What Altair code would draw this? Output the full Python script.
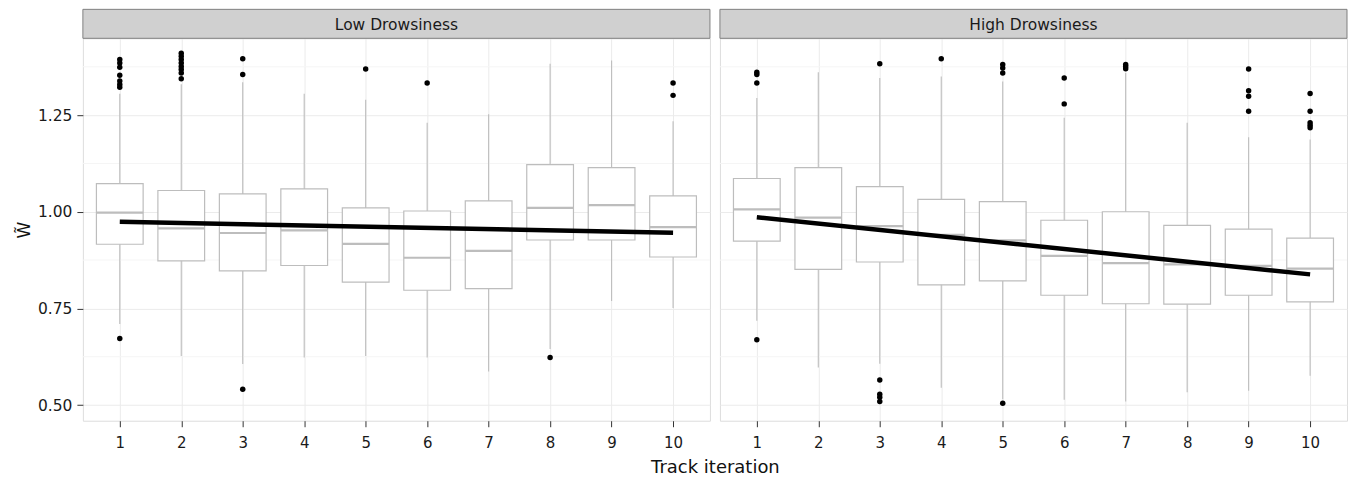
import altair as alt
import pandas as pd

# ---------------- data ----------------
iterations = [1, 2, 3, 4, 5, 6, 7, 8, 9, 10]
panel_names = ["Low Drowsiness", "High Drowsiness"]

low_lower = [0.710, 0.627, 0.606, 0.623, 0.627, 0.623, 0.587, 0.645, 0.769, 0.751]
low_q1 = [0.916, 0.873, 0.847, 0.861, 0.818, 0.797, 0.801, 0.927, 0.927, 0.883]
low_med = [0.998, 0.957, 0.945, 0.952, 0.917, 0.881, 0.899, 1.010, 1.017, 0.960]
low_q3 = [1.073, 1.055, 1.046, 1.059, 1.010, 1.002, 1.028, 1.122, 1.114, 1.041]
low_upper = [1.305, 1.330, 1.335, 1.305, 1.290, 1.230, 1.252, 1.383, 1.391, 1.234]

low_out_it = [1, 1, 1, 1, 1, 1, 1, 1,
              2, 2, 2, 2, 2, 2, 2, 2,
              3, 3, 3, 5, 6, 8, 10, 10]
low_out_val = [1.394, 1.385, 1.374, 1.353, 1.338, 1.329, 1.322, 0.672,
               1.410, 1.402, 1.394, 1.385, 1.376, 1.368, 1.359, 1.344,
               1.396, 1.355, 0.541, 1.369, 1.333, 0.623, 1.333, 1.301]

high_lower = [0.718, 0.597, 0.607, 0.545, 0.515, 0.514, 0.509, 0.533, 0.537, 0.576]
high_q1 = [0.924, 0.851, 0.870, 0.811, 0.821, 0.784, 0.762, 0.761, 0.784, 0.767]
high_med = [1.006, 0.985, 0.963, 0.940, 0.926, 0.886, 0.867, 0.864, 0.860, 0.853]
high_q3 = [1.086, 1.114, 1.065, 1.032, 1.026, 0.978, 1.000, 0.965, 0.955, 0.932]
high_upper = [1.294, 1.361, 1.346, 1.350, 1.337, 1.243, 1.359, 1.230, 1.193, 1.187]

high_out_it = [1, 1, 1, 1,
               3, 3, 3, 3, 3,
               4,
               5, 5, 5, 5,
               6, 6,
               7, 7, 7,
               9, 9, 9, 9,
               10, 10, 10, 10, 10]
high_out_val = [1.361, 1.355, 1.333, 0.669,
                1.383, 0.565, 0.528, 0.520, 0.509,
                1.396,
                1.381, 1.372, 1.359, 0.505,
                1.346, 1.279,
                1.381, 1.376, 1.370,
                1.369, 1.313, 1.299, 1.260,
                1.306, 1.260, 1.230, 1.224, 1.217]

trend_it = [1, 10]
low_trend = [0.974, 0.946]
high_trend = [0.986, 0.838]

y_major = [0.5, 0.75, 1.0, 1.25]
y_minor = [0.625, 0.875, 1.125, 1.375]

# ---------------- style ----------------
FONT = "DejaVu Sans"
W, H = 628, 383
XD = [0.4, 10.6]
YD = [0.4595, 1.4486]
HALF = 0.38
GREY_BOX = "#bdbdbd"

xs = alt.Scale(domain=XD, nice=False, zero=False)
ys = alt.Scale(domain=YD, nice=False, zero=False)


def panel(name, lower, q1, med, q3, upper, out_it, out_val, trend, first):
    box_df = pd.DataFrame({"it": iterations, "lower": lower, "q1": q1,
                           "med": med, "q3": q3, "upper": upper})
    out_df = pd.DataFrame({"it": out_it, "v": out_val})
    trend_df = pd.DataFrame({"it": trend_it, "v": trend})
    minor_df = pd.DataFrame({"v": y_minor})
    strip_df = pd.DataFrame({"label": [name]})

    x_axis = alt.Axis(values=iterations, format="d", grid=True, gridColor="#ebebeb",
                      domain=False, tickColor="#333333", tickSize=6, labelPadding=9,
                      labelFont=FONT, labelFontSize=15, labelColor="#1a1a1a",
                      title=None if first else "Track iteration",
                      titleFont=FONT, titleFontSize=18, titleFontWeight="normal",
                      titleColor="#111111", titleX=-5, titleAlign="center",
                      titlePadding=8)
    if first:
        y_axis = alt.Axis(values=y_major, format=".2f", grid=True, gridColor="#ebebeb",
                          domain=False, tickColor="#333333", tickSize=6, labelPadding=5,
                          labelFont=FONT, labelFontSize=15.5, labelColor="#1a1a1a",
                          title="W\u0303", titleFont=FONT, titleFontSize=17,
                          titleFontWeight="normal", titleColor="#111111", titlePadding=4)
    else:
        y_axis = alt.Axis(values=y_major, grid=True, gridColor="#ebebeb", domain=False,
                          ticks=False, labels=False, title=None)

    def X(f):
        return alt.X(f, type="quantitative", scale=xs, axis=x_axis)

    def Y(f):
        return alt.Y(f, type="quantitative", scale=ys, axis=y_axis)

    minor = alt.Chart(minor_df).mark_rule(color="#f5f5f5", strokeWidth=1).encode(y=Y("v"))

    base = alt.Chart(box_df).transform_calculate(
        lo=f"datum.it - {HALF}", hi=f"datum.it + {HALF}")

    whisk = base.mark_rule(color=GREY_BOX, strokeWidth=1.1).encode(
        x=X("it"), y=Y("lower"), y2="upper")
    box = base.mark_rect(fill="white", stroke=GREY_BOX, strokeWidth=1.2).encode(
        x=X("lo"), x2="hi", y=Y("q1"), y2="q3")
    median = base.mark_rule(color=GREY_BOX, strokeWidth=2.2).encode(
        x=X("lo"), x2="hi", y=Y("med"))
    outl = alt.Chart(out_df).mark_circle(size=30, color="black", opacity=1).encode(
        x=X("it"), y=Y("v"))
    line = alt.Chart(trend_df).mark_line(color="black", strokeWidth=4.5, strokeCap="butt").encode(
        x=X("it"), y=Y("v"))

    strip = alt.Chart(strip_df).mark_rect(fill="#d0d0d0", stroke="#808080", strokeWidth=1).encode(
        x=alt.value(0), x2=alt.value(W), y=alt.value(-29), y2=alt.value(0))
    strip_txt = alt.Chart(strip_df).mark_text(font=FONT, fontSize=15.5, color="#1a1a1a",
                                              baseline="alphabetic", align="center").encode(
        x=alt.value(W / 2), y=alt.value(-8), text="label:N")

    return alt.layer(minor, whisk, box, median, outl, line, strip, strip_txt).properties(
        width=W, height=H)


left = panel(panel_names[0], low_lower, low_q1, low_med, low_q3, low_upper,
             low_out_it, low_out_val, low_trend, True)
right = panel(panel_names[1], high_lower, high_q1, high_med, high_q3, high_upper,
              high_out_it, high_out_val, high_trend, False)

chart = alt.hconcat(left, right, spacing=10, bounds="flush").properties(
    padding={"left": 6, "top": 0, "right": 0, "bottom": 0}
).configure_view(stroke="#808080", strokeWidth=1).configure(background="white")

chart.save("out.html", embed_options={"renderer": "svg", "actions": False})
